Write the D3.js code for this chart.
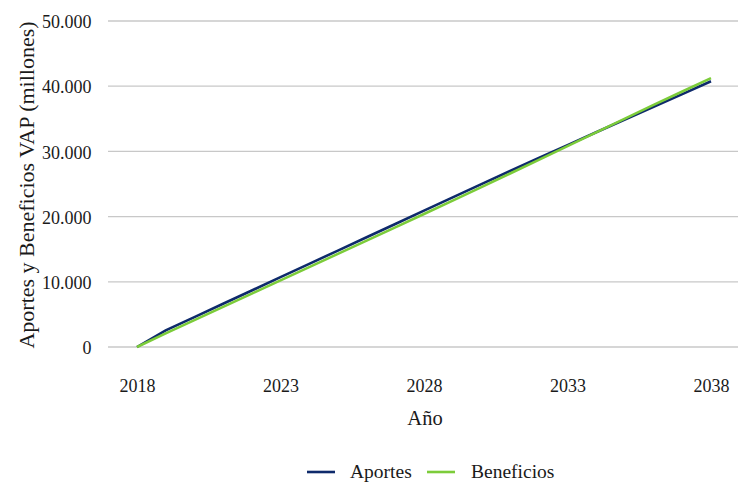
<!DOCTYPE html>
<html>
<head>
<meta charset="utf-8">
<script src="https://cdn.jsdelivr.net/npm/d3@7"></script>
<style>
  html, body { margin: 0; padding: 0; background: #fff; }
  svg, svg text { font-family: "Liberation Serif", "Times New Roman", serif !important; }
</style>
</head>
<body>
<svg id="chart" width="738" height="486"></svg>
<script>
const years = d3.range(2018, 2039);
const aportes = [0, 2550, 4590, 6630, 8670, 10710, 12750, 14790, 16830, 18870, 20910,
                 22950, 24990, 26990, 28980, 30960, 32930, 34890, 36840, 38790, 40760];
const beneficios = [0, 2100, 4130, 6160, 8190, 10220, 12250, 14280, 16310, 18350, 20400,
                    22460, 24530, 26610, 28700, 30800, 32910, 35020, 37130, 39185, 41240];
const yTicks = [0, 10000, 20000, 30000, 40000, 50000];
const xTicks = [2018, 2023, 2028, 2033, 2038];
const seriesNames = ["Aportes", "Beneficios"];
const colors = ["#0e2a6b", "#7ccc3a"];

const FONT = '"Liberation Serif", "Times New Roman", serif';
const svg = d3.select("#chart");
const gridLeft = 108, gridRight = 738;
const x = d3.scaleLinear().domain([2018, 2038]).range([137, 711]);
const y = d3.scaleLinear().domain([0, 50000]).range([347, 21]);

const fmt = v => v === 0 ? "0" : d3.format(",")(v).replace(/,/g, ".");

// gridlines
svg.append("g").selectAll("line").data(yTicks).join("line")
  .attr("x1", gridLeft).attr("x2", gridRight)
  .attr("y1", d => y(d)).attr("y2", d => y(d))
  .attr("stroke", "#c8c8c8").attr("stroke-width", 1.3);

// y axis labels
const yAxis = d3.axisLeft(y).tickValues(yTicks).tickFormat(fmt).tickSize(0).tickPadding(0);
const gy = svg.append("g").attr("transform", "translate(91.5,0)").call(yAxis)
  .attr("font-family", FONT).attr("font-size", 18);
gy.select(".domain").remove();
gy.selectAll("text").style("font-family", FONT).attr("fill", "#1a1a1a").attr("dy", "0.37em");

// x axis labels
const xAxis = d3.axisBottom(x).tickValues(xTicks).tickFormat(d3.format("d")).tickSize(0).tickPadding(0);
const gx = svg.append("g").attr("transform", "translate(0,391.5)").call(xAxis)
  .attr("font-family", FONT).attr("font-size", 18);
gx.select(".domain").remove();
gx.selectAll("text").style("font-family", FONT).attr("fill", "#1a1a1a").attr("dy", null).attr("y", 0);

// lines
const data = [aportes, beneficios];
const line = d3.line().x((d, i) => x(years[i])).y(d => y(d));
data.forEach((vals, k) => {
  svg.append("path").datum(vals)
    .attr("fill", "none").attr("stroke", colors[k]).attr("stroke-width", 2.6)
    .attr("d", line);
});

// axis titles
svg.append("text").attr("x", 425).attr("y", 425).attr("text-anchor", "middle")
  .style("font-family", FONT).attr("font-size", 20.5).attr("fill", "#1a1a1a").text("Año");
svg.append("text").attr("transform", "translate(34,185) rotate(-90)").attr("text-anchor", "middle")
  .style("font-family", FONT).attr("font-size", 22).attr("fill", "#1a1a1a").text("Aportes y Beneficios VAP (millones)");

// legend
const legendItems = [{ name: seriesNames[0], lx: 307, tx: 350 }, { name: seriesNames[1], lx: 427, tx: 471 }];
const lg = svg.append("g");
legendItems.forEach((it, k) => {
  lg.append("line").attr("x1", it.lx).attr("x2", it.lx + 28).attr("y1", 472).attr("y2", 472)
    .attr("stroke", colors[k]).attr("stroke-width", 2.6);
  lg.append("text").attr("x", it.tx).attr("y", 478).style("font-family", FONT)
    .attr("font-size", 19.5).attr("fill", "#1a1a1a").text(it.name);
});
</script>
</body>
</html>
